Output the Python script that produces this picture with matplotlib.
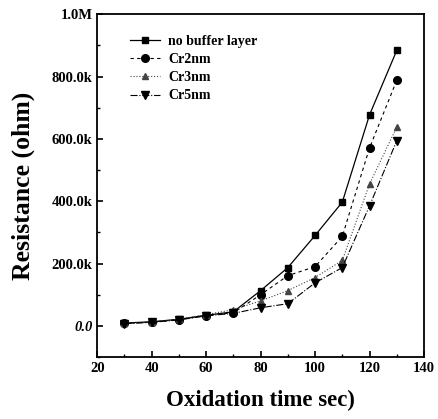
import matplotlib
matplotlib.use("Agg")
import matplotlib.pyplot as plt
from matplotlib.ticker import MultipleLocator

plt.rcParams['font.family'] = ['Liberation Serif', 'DejaVu Serif']

time = [30, 40, 50, 60, 70, 80, 90, 100, 110, 120, 130]
no_buffer = [9e3, 13e3, 21e3, 34e3, 45e3, 113e3, 187e3, 290e3, 397e3, 677e3, 884e3]
cr2 = [8e3, 12e3, 20e3, 33e3, 42e3, 100e3, 161e3, 190e3, 287e3, 571e3, 788e3]
cr3 = [8e3, 12e3, 21e3, 36e3, 52e3, 80e3, 113e3, 155e3, 210e3, 455e3, 638e3]
cr5 = [7e3, 11e3, 19e3, 32e3, 40e3, 58e3, 71e3, 138e3, 187e3, 385e3, 594e3]
labels = ["no buffer layer", "Cr2nm", "Cr3nm", "Cr5nm"]
yticks = [0, 200e3, 400e3, 600e3, 800e3, 1e6]
ytick_labels = ["0.0", "200.0k", "400.0k", "600.0k", "800.0k", "1.0M"]
xticks = [20, 40, 60, 80, 100, 120, 140]

fig = plt.figure(figsize=(4.38, 4.19), dpi=100)
ax = fig.add_axes([0.222, 0.148, 0.746, 0.818])

ax.plot(time, no_buffer, color='black', linestyle='-', lw=0.9, marker='s', markersize=5, label=labels[0])
ax.plot(time, cr2, color='black', linestyle=(0, (3, 3)), lw=0.8, marker='o', markersize=5.5, label=labels[1])
ax.plot(time, cr3, color='#444444', linestyle=':', lw=0.8, marker='^', markersize=4.5, label=labels[2])
ax.plot(time, cr5, color='black', linestyle='-.', lw=0.8, marker='v', markersize=6, label=labels[3])

ax.set_xlim(20, 140)
ax.set_ylim(-100e3, 1e6)
ax.set_xticks(xticks)
ax.set_xticklabels([str(t) for t in xticks])
ax.set_yticks(yticks)
ax.set_yticklabels(ytick_labels)
ax.xaxis.set_minor_locator(MultipleLocator(10))
ax.yaxis.set_minor_locator(MultipleLocator(100e3))
ax.tick_params(which='both', direction='in', top=False, right=False)
ax.tick_params(which='major', length=4, width=1.2, labelsize=10.5)
ax.tick_params(which='minor', length=2.5, width=1)
for lab in ax.get_xticklabels() + ax.get_yticklabels():
    lab.set_fontweight('bold')
ax.get_yticklabels()[0].set_fontstyle('italic')
for sp in ax.spines.values():
    sp.set_linewidth(1.3)

ax.set_xlabel("Oxidation time sec)", fontsize=16.5, fontweight='bold')
ax.set_ylabel("Resistance (ohm)", fontsize=18.5, fontweight='bold')
ax.xaxis.set_label_coords(0.5, -0.095)
ax.yaxis.set_label_coords(-0.19, 0.5)

leg = ax.legend(loc='upper left', bbox_to_anchor=(0.075, 0.965), frameon=False,
                prop={'weight': 'bold', 'size': 10}, handlelength=2.15,
                labelspacing=0.38, handletextpad=0.6, borderaxespad=0.2)

fig.savefig("out.png", dpi=100)
